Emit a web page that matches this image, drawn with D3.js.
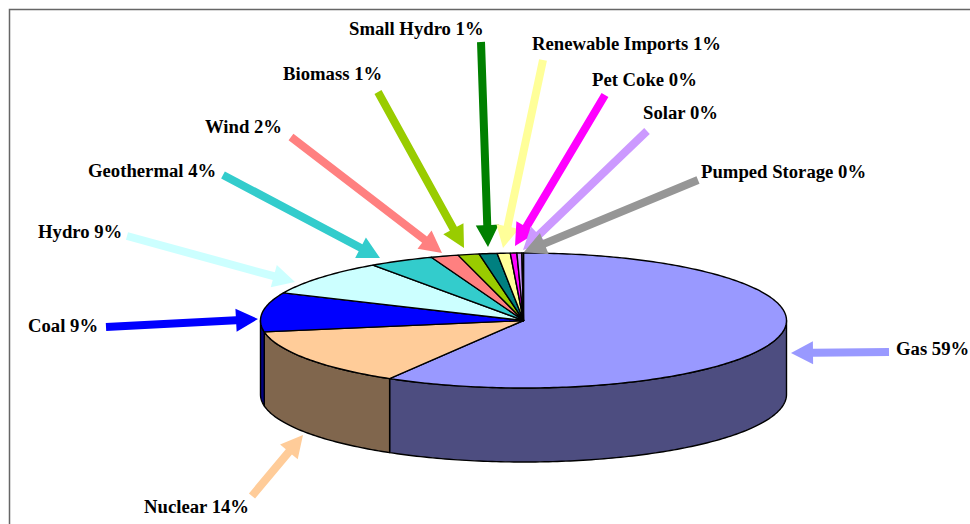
<!DOCTYPE html>
<html>
<head>
<meta charset="utf-8">
<script src="https://cdnjs.cloudflare.com/ajax/libs/d3/7.8.5/d3.min.js"></script>
<style>
  html, body { margin: 0; background: #fff; overflow: hidden; }
  text { font-family: "Liberation Serif", serif; font-weight: bold; font-size: 18.7px; fill: #000; }
</style>
</head>
<body>
<script>
const sources = ["Gas", "Nuclear", "Coal", "Hydro", "Geothermal", "Wind", "Biomass", "Small Hydro", "Renewable Imports", "Pet Coke", "Solar", "Pumped Storage"];
const shares = [58.5, 13.8, 9.4, 8.6, 4.0, 1.7, 1.3, 1.1, 0.8, 0.4, 0.3, 0.1];
const sliceColors = ["#9999FF", "#FFCC99", "#0000FF", "#CCFFFF", "#33CCCC", "#FF8080", "#99CC00", "#008080", "#FFFF99", "#FF00FF", "#CC99FF", "#969696"];
const arrowColors = ["#9999FF", "#FFCC99", "#0000FF", "#CCFFFF", "#33CCCC", "#FF8080", "#99CC00", "#008000", "#FFFF99", "#FF00FF", "#CC99FF", "#969696"];

// label anchors and leader arrows, by hand, same order as sources
const labelPos = [[896, 355], [144, 513], [28, 332], [38, 238], [88, 177], [205, 133], [283, 80], [349, 35], [532, 50], [592, 86], [643, 119], [701, 178]];
const arrowFrom = [[889, 352], [252, 496], [106, 327], [127, 236], [223, 175], [291, 137], [378, 92], [481, 42], [543, 60], [605, 95], [647, 131], [698, 180]];
const arrowTo = [[791, 353], [303, 435], [258, 319], [295, 282], [380, 258], [442, 253], [464, 248], [488, 247], [503, 248], [515, 246], [523, 250], [524, 252]];

const width = 970, height = 524;
const cx = 523.5, cy = 320.5, rx = 263, ry = 67.5, depth = 74;

const svg = d3.select("body").append("svg")
    .attr("width", width)
    .attr("height", height);

// frame, only top and left fall inside the crop
svg.append("path")
    .attr("d", d3.line()([[9.5, height], [9.5, 9.5], [width, 9.5]]))
    .attr("fill", "none")
    .attr("stroke", "#666")
    .attr("stroke-width", 1.5);

const pie = d3.pie().sort(null).value(d => d);
const slices = pie(shares);

const px = d3.scaleLinear().domain([-1, 1]).range([cx - rx, cx + rx]);
const py = d3.scaleLinear().domain([-1, 1]).range([cy - ry, cy + ry]);
const rim = (a, drop = 0) => [px(Math.sin(a)), py(-Math.cos(a)) + drop];
const line = d3.line();

function arcPoints(a0, a1, drop = 0) {
    const n = Math.max(2, Math.ceil((a1 - a0) * 60));
    return d3.range(n + 1).map(i => rim(a0 + (a1 - a0) * i / n, drop));
}

// side wall: only the front half of the cylinder shows
const side = svg.append("g");
slices.forEach((s, i) => {
    const a0 = Math.max(s.startAngle, Math.PI / 2);
    const a1 = Math.min(s.endAngle, Math.PI * 1.5);
    if (a1 <= a0) return;
    const c = d3.rgb(sliceColors[i]);
    const pts = arcPoints(a0, a1).concat(arcPoints(a0, a1, depth).reverse());
    side.append("path")
        .attr("d", line(pts) + "Z")
        .attr("fill", d3.rgb(c.r / 2, c.g / 2, c.b / 2))
        .attr("stroke", "#000")
        .attr("stroke-width", 1.4)
        .attr("stroke-linejoin", "round");
});

// top face
svg.append("g")
    .selectAll("path")
    .data(slices)
    .join("path")
    .attr("d", s => line([[px(0), py(0)]].concat(arcPoints(s.startAngle, s.endAngle))) + "Z")
    .attr("fill", (s, i) => sliceColors[i])
    .attr("stroke", "#000")
    .attr("stroke-width", 1.4)
    .attr("stroke-linejoin", "round");

function arrowPath(from, to) {
    const shaft = 4, headW = 11.5, headL = 22;
    const len = Math.hypot(to[0] - from[0], to[1] - from[1]);
    const ux = (to[0] - from[0]) / len, uy = (to[1] - from[1]) / len;
    const at = (along, off) => [from[0] + ux * along - uy * off, from[1] + uy * along + ux * off];
    const b = len - headL;
    return line([at(0, shaft), at(b, shaft), at(b, headW), at(len, 0), at(b, -headW), at(b, -shaft), at(0, -shaft)]) + "Z";
}

svg.append("g")
    .selectAll("path")
    .data(sources)
    .join("path")
    .attr("d", (d, i) => arrowPath(arrowFrom[i], arrowTo[i]))
    .attr("fill", (d, i) => arrowColors[i]);

const pct = d3.format(".0f");
svg.append("g")
    .selectAll("text")
    .data(sources)
    .join("text")
    .attr("x", (d, i) => labelPos[i][0])
    .attr("y", (d, i) => labelPos[i][1])
    .text((d, i) => d + " " + pct(shares[i]) + "%");
</script>
</body>
</html>
